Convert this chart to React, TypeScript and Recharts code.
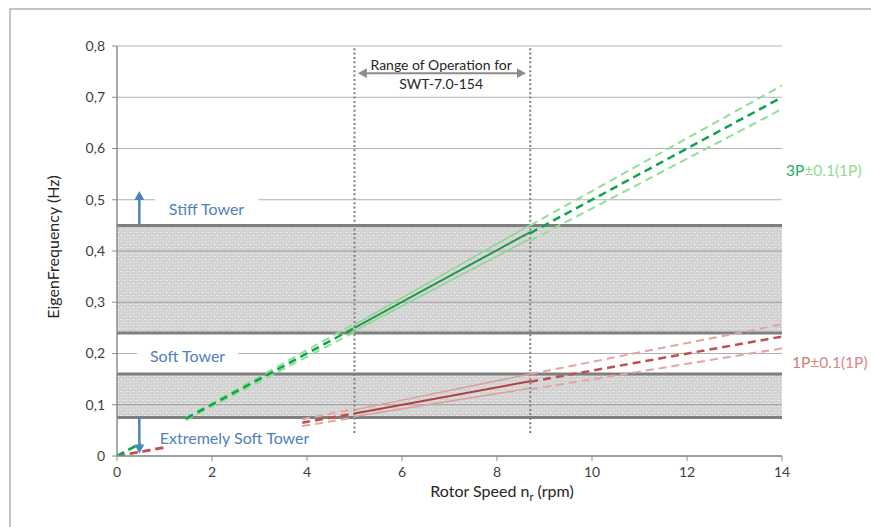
import {
  LineChart,
  Line,
  XAxis,
  YAxis,
  CartesianGrid,
  ReferenceArea,
  ReferenceLine,
  ReferenceDot,
} from 'recharts'

const FONT = 'Lato, "Open Sans", sans-serif'

const xTicks = [0, 2, 4, 6, 8, 10, 12, 14]
const yTicks = [0, 0.1, 0.2, 0.3, 0.4, 0.5, 0.6, 0.7, 0.8]

// tower frequency bands (Hz)
const softBand = [0.075, 0.16]
const stiffBand = [0.24, 0.45]
const bandEdges = [0.075, 0.16, 0.24, 0.45]
const bandGrid = [0.1, 0.3, 0.4]

// operating range (rpm)
const opRange = [5, 8.7]

// 3P lines, dashed parts (null = hidden behind label / solid part)
const p3Speed = [0, 0.5, 0.9, 1.45, 5, 6.8, 8.7, 14]
const p3Mid = [0, 0.025, null, 0.073, 0.25, null, 0.435, 0.7]
const p3High = [0, 0.026, null, 0.075, 0.258, null, 0.45, 0.723]
const p3Low = [0, 0.024, null, 0.07, 0.242, null, 0.42, 0.677]
// 3P inside operating range
const p3MidOp = [0.25, 0.437]
const p3HighOp = [0.256, 0.451]
const p3LowOp = [0.244, 0.424]

// 1P lines
const p1Speed = [0, 1.05, 2.5, 3.9, 5, 6.8, 8.7, 14]
const p1Mid = [0, 0.0175, null, 0.065, 0.083, null, 0.145, 0.233]
const p1High = [0, 0.019, null, 0.0715, 0.092, null, 0.16, 0.257]
const p1Low = [0, 0.016, null, 0.0585, 0.075, null, 0.13, 0.21]
const p1MidOp = [0.083, 0.146]
const p1HighOp = [0.09, 0.16]
const p1LowOp = [0.077, 0.132]

const toPoints = (xs: number[], ys: (number | null)[]) => xs.map((x, i) => ({ x, y: ys[i] }))

const arrowShape = (color: string, width: number, head: number, both: boolean) => (p: any) => {
  const { x1, y1, x2, y2 } = p
  const a = Math.atan2(y2 - y1, x2 - x1)
  const c = Math.cos(a)
  const s = Math.sin(a)
  const w = head * 0.55
  const tri = (tx: number, ty: number, dir: number) => {
    const bx = tx - dir * head * c
    const by = ty - dir * head * s
    return `${tx},${ty} ${bx - w * s},${by + w * c} ${bx + w * s},${by - w * c}`
  }
  const sx = both ? x1 + head * 0.8 * c : x1
  const sy = both ? y1 + head * 0.8 * s : y1
  return (
    <g>
      <line x1={sx} y1={sy} x2={x2 - head * 0.8 * c} y2={y2 - head * 0.8 * s} stroke={color} strokeWidth={width} />
      <polygon points={tri(x2, y2, 1)} fill={color} />
      {both && <polygon points={tri(x1, y1, -1)} fill={color} />}
    </g>
  )
}

const blueText = (text: string) => (props: any) => {
  const vb = props.viewBox
  return (
    <text
      x={vb.x + vb.width / 2}
      y={vb.y + vb.height / 2}
      textAnchor="middle"
      dominantBaseline="central"
      fill="#4f81bd"
      fontSize={16}
      fontFamily={FONT}
    >
      {text}
    </text>
  )
}

const rangeText = (props: any) => {
  const vb = props.viewBox
  const cx = vb.x + vb.width / 2
  const cy = vb.y + vb.height / 2
  return (
    <text textAnchor="middle" fill="#262626" fontSize={14} fontFamily={FONT}>
      <tspan x={cx} y={cy - 9} dominantBaseline="central">Range of Operation for</tspan>
      <tspan x={cx} y={cy + 10} dominantBaseline="central">SWT-7.0-154</tspan>
    </text>
  )
}

const sideLabel = (first: string, rest: string, c1: string, c2: string, dx: number) => (props: any) => {
  const vb = props.viewBox
  return (
    <text x={vb.x + vb.width / 2 + dx} y={vb.y + vb.height / 2} dominantBaseline="central" fontSize={15.5} fontFamily={FONT}>
      <tspan fill={c1}>{first}</tspan>
      <tspan fill={c2}>{rest}</tspan>
    </text>
  )
}

const yTitle = (props: any) => {
  const vb = props.viewBox
  const x = vb.x - 5
  const y = vb.y + vb.height / 2 - 4
  return (
    <text x={x} y={y} transform={`rotate(-90, ${x}, ${y})`} textAnchor="middle" dominantBaseline="central" fill="#262626" fontSize={16} fontFamily={FONT}>
      EigenFrequency (Hz)
    </text>
  )
}

const xTitle = (props: any) => {
  const vb = props.viewBox
  return (
    <text x={vb.x + 385} y={vb.y + 41} textAnchor="middle" fill="#262626" fontSize={16} fontFamily={FONT}>
      <tspan>Rotor Speed n</tspan>
      <tspan dy={4} fontSize={11}>r</tspan>
      <tspan dy={-4}> (rpm)</tspan>
    </text>
  )
}

const dash = '8 5'

export default function App() {
  return (
    <div style={{ position: 'absolute', left: 0, top: 0, width: 871, height: 527, overflow: 'hidden', background: '#fff' }}>
      <div
        style={{
          position: 'absolute',
          left: 9,
          top: 8,
          width: 900,
          height: 600,
          borderTop: '2px solid #c4c4c4',
          borderLeft: '2px solid #c4c4c4',
        }}
      />
      <div style={{ position: 'absolute', left: 0, top: 0 }}>
        <LineChart width={871} height={527} margin={{ top: 46, right: 89, bottom: 31, left: 57 }}>
          <defs>
            <pattern id="weave" width="6" height="6" patternUnits="userSpaceOnUse">
              <rect width="6" height="6" fill="#d0d0d0" />
              <path d="M0 1.5 H3 M3 4.5 H6" stroke="#e6e6e6" strokeWidth="1" />
              <path d="M1.5 3 V6 M4.5 0 V3" stroke="#dcdcdc" strokeWidth="1" />
            </pattern>
          </defs>
          <CartesianGrid vertical={false} stroke="#b0b0b0" />
          <XAxis
            type="number"
            dataKey="x"
            domain={[0, 14]}
            ticks={xTicks}
            allowDataOverflow
            height={40}
            tickSize={5}
            tickMargin={6}
            tick={{ fontSize: 14, fill: '#404040', fontFamily: FONT }}
            tickLine={{ stroke: '#8c8c8c' }}
            axisLine={{ stroke: '#8c8c8c', strokeWidth: 1.5 }}
            label={xTitle}
          />
          <YAxis
            type="number"
            domain={[0, 0.8]}
            ticks={yTicks}
            allowDataOverflow
            width={60}
            tickSize={5}
            tickMargin={7}
            tick={{ fontSize: 14, fill: '#404040', fontFamily: FONT }}
            tickLine={{ stroke: '#8c8c8c' }}
            axisLine={{ stroke: '#8c8c8c', strokeWidth: 1.5 }}
            tickFormatter={(v: number) => (v === 0 ? '0' : v.toFixed(1).replace('.', ','))}
            label={yTitle}
          />

          <ReferenceArea x1={0} x2={14} y1={softBand[0]} y2={softBand[1]} fill="url(#weave)" fillOpacity={1} />
          <ReferenceArea x1={0} x2={14} y1={stiffBand[0]} y2={stiffBand[1]} fill="url(#weave)" fillOpacity={1} />
          {bandGrid.map((v) => (
            <ReferenceLine key={v} y={v} stroke="#9a9a9a" strokeWidth={1} />
          ))}
          {bandEdges.map((v) => (
            <ReferenceLine key={v} y={v} stroke="#7f7f7f" strokeWidth={3} />
          ))}

          <ReferenceArea x1={0.8} x2={2.97} y1={0.46} y2={0.505} fill="#fff" fillOpacity={1} label={blueText('Stiff Tower')} />
          <ReferenceArea x1={0.42} x2={2.55} y1={0.172} y2={0.22} fill="#fff" fillOpacity={1} label={blueText('Soft Tower')} />
          <ReferenceArea x1={0.95} x2={4.0} y1={0.012} y2={0.06} fill="none" fillOpacity={0} label={blueText('Extremely Soft Tower')} />

          {opRange.map((v) => (
            <ReferenceLine
              key={v}
              segment={[{ x: v, y: 0.045 }, { x: v, y: 0.8 }]}
              stroke="#7f7f7f"
              strokeWidth={2}
              strokeDasharray="2 2.4"
            />
          ))}

          <ReferenceLine segment={[{ x: 5.07, y: 0.747 }, { x: 8.61, y: 0.747 }]} shape={arrowShape('#8c8c8c', 2, 9, true)} />
          <ReferenceArea x1={5.1} x2={8.55} y1={0.72} y2={0.774} fill="none" fillOpacity={0} label={rangeText} />

          <ReferenceLine segment={[{ x: 0.47, y: 0.45 }, { x: 0.47, y: 0.517 }]} shape={arrowShape('#4f81bd', 2.5, 9, false)} />
          <ReferenceLine segment={[{ x: 0.47, y: 0.075 }, { x: 0.47, y: 0.005 }]} shape={arrowShape('#4f81bd', 2.5, 9, false)} />

          {/* 1P */}
          <Line data={toPoints(opRange, p1HighOp)} dataKey="y" type="linear" stroke="#d9a09e" strokeWidth={1.5} dot={false} activeDot={false} isAnimationActive={false} />
          <Line data={toPoints(opRange, p1LowOp)} dataKey="y" type="linear" stroke="#d9a09e" strokeWidth={1.5} dot={false} activeDot={false} isAnimationActive={false} />
          <Line data={toPoints(opRange, p1MidOp)} dataKey="y" type="linear" stroke="#b0413e" strokeWidth={2} dot={false} activeDot={false} isAnimationActive={false} />
          <Line data={toPoints(p1Speed, p1High)} dataKey="y" type="linear" stroke="#e3a4a2" strokeWidth={2} strokeDasharray={dash} dot={false} activeDot={false} isAnimationActive={false} />
          <Line data={toPoints(p1Speed, p1Low)} dataKey="y" type="linear" stroke="#e3a4a2" strokeWidth={2} strokeDasharray={dash} dot={false} activeDot={false} isAnimationActive={false} />
          <Line data={toPoints(p1Speed, p1Mid)} dataKey="y" type="linear" stroke="#c0504d" strokeWidth={2.5} strokeDasharray={dash} dot={false} activeDot={false} isAnimationActive={false} />

          {/* 3P */}
          <Line data={toPoints(opRange, p3HighOp)} dataKey="y" type="linear" stroke="#8cd68c" strokeWidth={1.5} dot={false} activeDot={false} isAnimationActive={false} />
          <Line data={toPoints(opRange, p3LowOp)} dataKey="y" type="linear" stroke="#8cd68c" strokeWidth={1.5} dot={false} activeDot={false} isAnimationActive={false} />
          <Line data={toPoints(opRange, p3MidOp)} dataKey="y" type="linear" stroke="#1e9a4c" strokeWidth={2} dot={false} activeDot={false} isAnimationActive={false} />
          <Line data={toPoints(p3Speed, p3High)} dataKey="y" type="linear" stroke="#8fe08f" strokeWidth={2} strokeDasharray={dash} dot={false} activeDot={false} isAnimationActive={false} />
          <Line data={toPoints(p3Speed, p3Low)} dataKey="y" type="linear" stroke="#8fe08f" strokeWidth={2} strokeDasharray={dash} dot={false} activeDot={false} isAnimationActive={false} />
          <Line data={toPoints(p3Speed, p3Mid)} dataKey="y" type="linear" stroke="#0ea34f" strokeWidth={2.5} strokeDasharray={dash} dot={false} activeDot={false} isAnimationActive={false} />

          <ReferenceDot x={14} y={0.558} r={1} fill="none" stroke="none" label={sideLabel('3P', '±0.1(1P)', '#2aae5c', '#8fdc8f', 4)} />
          <ReferenceDot x={14} y={0.183} r={1} fill="none" stroke="none" label={sideLabel('1P', '±0.1(1P)', '#d27a78', '#d98886', 10)} />
        </LineChart>
      </div>
    </div>
  )
}
